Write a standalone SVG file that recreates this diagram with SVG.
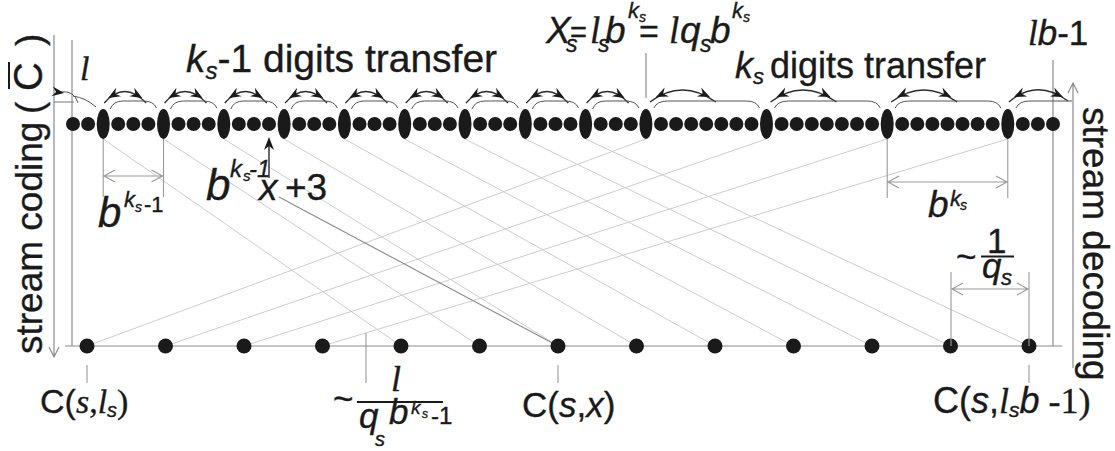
<svg xmlns="http://www.w3.org/2000/svg" xmlns:xlink="http://www.w3.org/1999/xlink" width="1115" height="451" viewBox="0 0 1115 451">
<style>
.ax{stroke:#8c8c8c;stroke-width:1.2;fill:none}
.dg{stroke:#cdcdcd;stroke-width:1;fill:none}
.dk{stroke:#8a8a8a;stroke-width:1.1;fill:none}
.dm{stroke:#9a9a9a;stroke-width:1.1;fill:none}
.arc{stroke:#2a2a2a;stroke-width:1.3;fill:none}
.br{stroke:#555;stroke-width:1;fill:none}
.d{fill:#1a1a1a}
.ah{fill:#1a1a1a}
text{fill:#1a1a1a;stroke:#1a1a1a;stroke-width:0.35;font-family:"Liberation Sans",Arial,sans-serif}
.r{font-family:"Liberation Serif","Times New Roman",serif}
.i{font-style:italic}
</style>
<defs>
<path id="ah" d="M0,0 L-12,-5 L-8,0 L-12,5 Z"/>
</defs>

<g id="axes">
<path class="ax" d="M54,35 V357 M49,347 L54,357 L59,347"/>
<path class="ax" d="M72,40 V346"/>
<path class="ax" d="M65,346 H1062"/>
<path class="ax" d="M1053,60 V346"/>
<path class="ax" d="M1073,368 V83 M1068,93 L1073,83 L1078,93"/>
<path class="ax" d="M646,53 V98"/>
<path class="ax" d="M54,102 H74"/>
</g>

<g id="connectors">
<path class="dg" d="M87,346 L645.9,139 M165.5,346 L766.5,139 M244,346 L887.2,139 M322.5,346 L1007.8,139"/>
<path class="dg" d="M103.2,139 L401,346 M163.5,139 L479.5,346 M223.8,139 L558,346 M284.1,139 L636.5,346 M344.4,139 L715,346 M404.7,139 L793.5,346 M465,139 L872,346 M525.3,139 L950.5,346 M585.6,139 L1029,346"/>
<path class="dk" d="M279,197 L558,346"/>
</g>

<g id="top-arcs">
<path class="br" d="M61,92 Q74,90 78,103"/>
<path class="br" d="M73,96 Q86,98 96,107"/>
<use xlink:href="#ah" class="ah" transform="translate(64,93) rotate(8)"/>
<path class="arc" d="M104.2,103 Q124.2,80 146.2,103 M164.5,103 Q184.5,80 206.5,103 M224.8,103 Q244.8,80 266.8,103 M285.1,103 Q305.1,80 327.1,103 M345.4,103 Q365.4,80 387.4,103 M405.7,103 Q425.7,80 447.7,103 M466,103 Q486,80 508,103 M526.3,103 Q546.3,80 568.3,103 M586.6,103 Q606.6,80 628.6,103"/>
<path class="br" d="M110.2,109 Q113.2,101 123.2,101 L143.5,101 Q153.5,101 156.5,108 M170.5,109 Q173.5,101 183.5,101 L203.8,101 Q213.8,101 216.8,108 M230.8,109 Q233.8,101 243.8,101 L264.1,101 Q274.1,101 277.1,108 M291.1,109 Q294.1,101 304.1,101 L324.4,101 Q334.4,101 337.4,108 M351.4,109 Q354.4,101 364.4,101 L384.7,101 Q394.7,101 397.7,108 M411.7,109 Q414.7,101 424.7,101 L445,101 Q455,101 458,108 M472,109 Q475,101 485,101 L505.3,101 Q515.3,101 518.3,108 M532.3,109 Q535.3,101 545.3,101 L565.6,101 Q575.6,101 578.6,108 M592.6,109 Q595.6,101 605.6,101 L625.9,101 Q635.9,101 638.9,108"/>
<g class="ah">
<use xlink:href="#ah" transform="translate(108.2,98) rotate(150)"/><use xlink:href="#ah" transform="translate(142.2,98) rotate(30)"/>
<use xlink:href="#ah" transform="translate(168.5,98) rotate(150)"/><use xlink:href="#ah" transform="translate(202.5,98) rotate(30)"/>
<use xlink:href="#ah" transform="translate(228.8,98) rotate(150)"/><use xlink:href="#ah" transform="translate(262.8,98) rotate(30)"/>
<use xlink:href="#ah" transform="translate(289.1,98) rotate(150)"/><use xlink:href="#ah" transform="translate(323.1,98) rotate(30)"/>
<use xlink:href="#ah" transform="translate(349.4,98) rotate(150)"/><use xlink:href="#ah" transform="translate(383.4,98) rotate(30)"/>
<use xlink:href="#ah" transform="translate(409.7,98) rotate(150)"/><use xlink:href="#ah" transform="translate(443.7,98) rotate(30)"/>
<use xlink:href="#ah" transform="translate(470,98) rotate(150)"/><use xlink:href="#ah" transform="translate(504,98) rotate(30)"/>
<use xlink:href="#ah" transform="translate(530.3,98) rotate(150)"/><use xlink:href="#ah" transform="translate(564.3,98) rotate(30)"/>
<use xlink:href="#ah" transform="translate(590.6,98) rotate(150)"/><use xlink:href="#ah" transform="translate(624.6,98) rotate(30)"/>
</g>
<path class="arc" d="M649.9,102 Q681.9,78 715.9,102 M770.5,102 Q802.5,78 836.5,102 M891.2,102 Q923.2,78 957.2,102 M1009,102 Q1037,78 1068,101"/>
<path class="br" d="M653.9,108 Q656.9,101 667.9,101 L746.5,101 Q756.5,101 759.5,108 M774.5,108 Q777.5,101 788.5,101 L867.2,101 Q877.2,101 880.2,108 M895.2,108 Q898.2,101 909.2,101 L987.8,101 Q997.8,101 1000.8,108 M1016,108 Q1019,101 1030,101 L1072,101"/>
<g class="ah">
<use xlink:href="#ah" transform="translate(655.9,97) rotate(155)"/><use xlink:href="#ah" transform="translate(709.9,97) rotate(25)"/>
<use xlink:href="#ah" transform="translate(776.5,97) rotate(155)"/><use xlink:href="#ah" transform="translate(830.5,97) rotate(25)"/>
<use xlink:href="#ah" transform="translate(897.2,97) rotate(155)"/><use xlink:href="#ah" transform="translate(951.2,97) rotate(25)"/>
<use xlink:href="#ah" transform="translate(1014,97) rotate(155)"/><use xlink:href="#ah" transform="translate(1063,97) rotate(25)"/>
</g>
</g>

<g id="top-row">
<g class="d">
<circle cx="73" cy="124" r="7"/><circle cx="88.1" cy="124" r="7"/>
<circle cx="118.2" cy="124" r="7"/><circle cx="133.3" cy="124" r="7"/><circle cx="148.4" cy="124" r="7"/>
<circle cx="178.5" cy="124" r="7"/><circle cx="193.6" cy="124" r="7"/><circle cx="208.7" cy="124" r="7"/>
<circle cx="238.8" cy="124" r="7"/><circle cx="253.9" cy="124" r="7"/><circle cx="269" cy="124" r="7"/>
<circle cx="299.2" cy="124" r="7"/><circle cx="314.2" cy="124" r="7"/><circle cx="329.3" cy="124" r="7"/>
<circle cx="359.5" cy="124" r="7"/><circle cx="374.5" cy="124" r="7"/><circle cx="389.6" cy="124" r="7"/>
<circle cx="419.8" cy="124" r="7"/><circle cx="434.8" cy="124" r="7"/><circle cx="449.9" cy="124" r="7"/>
<circle cx="480.1" cy="124" r="7"/><circle cx="495.2" cy="124" r="7"/><circle cx="510.2" cy="124" r="7"/>
<circle cx="540.4" cy="124" r="7"/><circle cx="555.5" cy="124" r="7"/><circle cx="570.5" cy="124" r="7"/>
<circle cx="600.7" cy="124" r="7"/><circle cx="615.8" cy="124" r="7"/><circle cx="630.8" cy="124" r="7"/>
<circle cx="661" cy="124" r="7"/><circle cx="676.1" cy="124" r="7"/><circle cx="691.2" cy="124" r="7"/><circle cx="706.2" cy="124" r="7"/><circle cx="721.3" cy="124" r="7"/><circle cx="736.4" cy="124" r="7"/><circle cx="751.5" cy="124" r="7"/>
<circle cx="781.6" cy="124" r="7"/><circle cx="796.7" cy="124" r="7"/><circle cx="811.8" cy="124" r="7"/><circle cx="826.8" cy="124" r="7"/><circle cx="841.9" cy="124" r="7"/><circle cx="857" cy="124" r="7"/><circle cx="872.1" cy="124" r="7"/>
<circle cx="902.2" cy="124" r="7"/><circle cx="917.3" cy="124" r="7"/><circle cx="932.4" cy="124" r="7"/><circle cx="947.5" cy="124" r="7"/><circle cx="962.5" cy="124" r="7"/><circle cx="977.6" cy="124" r="7"/><circle cx="992.7" cy="124" r="7"/>
<circle cx="1022.8" cy="124" r="7"/><circle cx="1037.9" cy="124" r="7"/><circle cx="1053" cy="124" r="7"/>
<ellipse cx="103.2" cy="124" rx="6.5" ry="15"/><ellipse cx="163.5" cy="124" rx="6.5" ry="15"/><ellipse cx="223.8" cy="124" rx="6.5" ry="15"/><ellipse cx="284.1" cy="124" rx="6.5" ry="15"/><ellipse cx="344.4" cy="124" rx="6.5" ry="15"/><ellipse cx="404.7" cy="124" rx="6.5" ry="15"/><ellipse cx="465" cy="124" rx="6.5" ry="15"/><ellipse cx="525.3" cy="124" rx="6.5" ry="15"/><ellipse cx="585.6" cy="124" rx="6.5" ry="15"/><ellipse cx="645.9" cy="124" rx="6.5" ry="15"/><ellipse cx="766.5" cy="124" rx="6.5" ry="15"/><ellipse cx="887.2" cy="124" rx="6.5" ry="15"/><ellipse cx="1007.8" cy="124" rx="6.5" ry="15"/>
</g>
</g>

<g id="bottom-row" class="d">
<circle cx="87" cy="346" r="7.5"/><circle cx="165.5" cy="346" r="7.5"/><circle cx="244" cy="346" r="7.5"/><circle cx="322.5" cy="346" r="7.5"/><circle cx="401" cy="346" r="7.5"/><circle cx="479.5" cy="346" r="7.5"/><circle cx="558" cy="346" r="7.5"/><circle cx="636.5" cy="346" r="7.5"/><circle cx="715" cy="346" r="7.5"/><circle cx="793.5" cy="346" r="7.5"/><circle cx="872" cy="346" r="7.5"/><circle cx="950.5" cy="346" r="7.5"/><circle cx="1029" cy="346" r="7.5"/>
</g>

<g id="dimensions">
<path class="dm" d="M103.2,139 V197 M163.5,139 V197 M104,176 H162.5 M115,170 L104,176 L115,182 M151.5,170 L162.5,176 L151.5,182"/>
<path class="dm" d="M887.2,139 V198 M1007.8,139 V198 M888,182 H1007 M899,176 L888,182 L899,188 M996,176 L1007,182 L996,188"/>
<path class="dm" d="M951,272 V346 M1029,272 V346 M952,289 H1028 M963,283 L952,289 L963,295 M1017,283 L1028,289 L1017,295"/>
<path class="dm" d="M87,365 V383 M558,365 V383 M1029,365 V383 M366,333 V383"/>
<path stroke="#1a1a1a" stroke-width="1.3" d="M269,178 V143"/>
<path class="ah" d="M269,137 L274,150 L269,146 L264,150 Z"/>
<path stroke="#1a1a1a" stroke-width="1.8" d="M981,256.5 H1014 M357,402 H443"/>
</g>

<g id="labels">
<text class="r i" x="80" y="80" font-size="34">l</text>
<text y="72" font-size="39"><tspan x="186" class="i">k</tspan><tspan class="i" font-size="24" dy="7">s</tspan><tspan dy="-7">-1 digits transfer</tspan></text>
<text font-size="37" y="43"><tspan x="546" class="i">X</tspan><tspan x="566" y="52" font-size="23" class="i">s</tspan><tspan x="570" y="42" font-size="29">=</tspan><tspan x="590" y="43" class="r i">l</tspan><tspan x="598" y="52" font-size="23" class="i">s</tspan><tspan x="605" y="43" class="i">b</tspan><tspan x="628" y="18" font-size="22" class="i">k</tspan><tspan x="639" y="22" font-size="14" class="i">s</tspan><tspan x="639" y="43" font-size="34">=</tspan><tspan x="669" class="r i">l</tspan><tspan x="680" class="i">q</tspan><tspan x="700" y="52" font-size="23" class="i">s</tspan><tspan x="710" y="43" class="i">b</tspan><tspan x="732" y="18" font-size="22" class="i">k</tspan><tspan x="743" y="22" font-size="14" class="i">s</tspan></text>
<text y="78" font-size="36"><tspan x="735" class="i">k</tspan><tspan class="i" font-size="22" dy="6">s</tspan><tspan x="770" y="78">digits transfer</tspan></text>
<text y="45" font-size="35"><tspan x="1028" class="r i">l</tspan><tspan class="i">b</tspan><tspan>-1</tspan></text>
<text font-size="42"><tspan x="98" y="227" class="i">b</tspan><tspan x="124" y="207" font-size="22" class="i">k</tspan><tspan x="135" y="212" font-size="14" class="i">s</tspan><tspan x="144" y="212" font-size="22">-1</tspan></text>
<text font-size="44"><tspan x="206" y="200" class="i">b</tspan><tspan x="230" y="177" font-size="24" class="i">k</tspan><tspan x="243" y="181" font-size="15" class="i">s</tspan><tspan x="249" y="177" font-size="24" class="i">-1</tspan><tspan x="259" y="200" font-size="37" class="i">x</tspan><tspan x="285" y="200" font-size="37">+3</tspan></text>
<text font-size="37"><tspan x="928" y="217" class="i">b</tspan><tspan x="950" y="206" font-size="22" class="i">k</tspan><tspan x="960" y="210" font-size="14" class="i">s</tspan></text>
<text font-size="35"><tspan x="956" y="269">~</tspan><tspan x="987" y="253">1</tspan><tspan x="982" y="278" class="i">q</tspan><tspan x="1001" y="285" font-size="22" class="i">s</tspan></text>
<text font-size="35"><tspan x="333" y="411">~</tspan><tspan x="391" y="391" class="r i" font-size="36">l</tspan><tspan x="359" y="428" class="i">q</tspan><tspan x="375" y="446" font-size="20" class="i">s</tspan><tspan x="389" y="424" class="i">b</tspan><tspan x="411" y="414" font-size="19" class="i">k</tspan><tspan x="422" y="418" font-size="12" class="i">s</tspan><tspan x="431" y="424" font-size="24">-1</tspan></text>
<text y="413" font-size="34"><tspan x="40">C(</tspan><tspan class="r i">s</tspan><tspan class="r">,</tspan><tspan class="r i">l</tspan><tspan class="i" font-size="20" dy="4">s</tspan><tspan class="r" dy="-4">)</tspan></text>
<text y="417" font-size="35"><tspan x="522">C(</tspan><tspan class="i">s</tspan><tspan>,</tspan><tspan class="i">x</tspan><tspan>)</tspan></text>
<text y="413" font-size="36"><tspan x="933">C(</tspan><tspan class="i">s</tspan><tspan>,</tspan><tspan class="r i">l</tspan><tspan class="i" font-size="21" dy="4">s</tspan><tspan class="i" dy="-4">b</tspan><tspan class="r"> -1)</tspan></text>
<g transform="translate(42,354) rotate(-90)">
<text font-size="37">stream coding<tspan x="240">(</tspan><tspan x="263" font-size="40">C</tspan><tspan x="308">)</tspan></text>
<path stroke="#1a1a1a" stroke-width="2" d="M265,-33 H292"/>
</g>
<text transform="translate(1083,107) rotate(90)" font-size="37">stream decoding</text>
</g>
</svg>
